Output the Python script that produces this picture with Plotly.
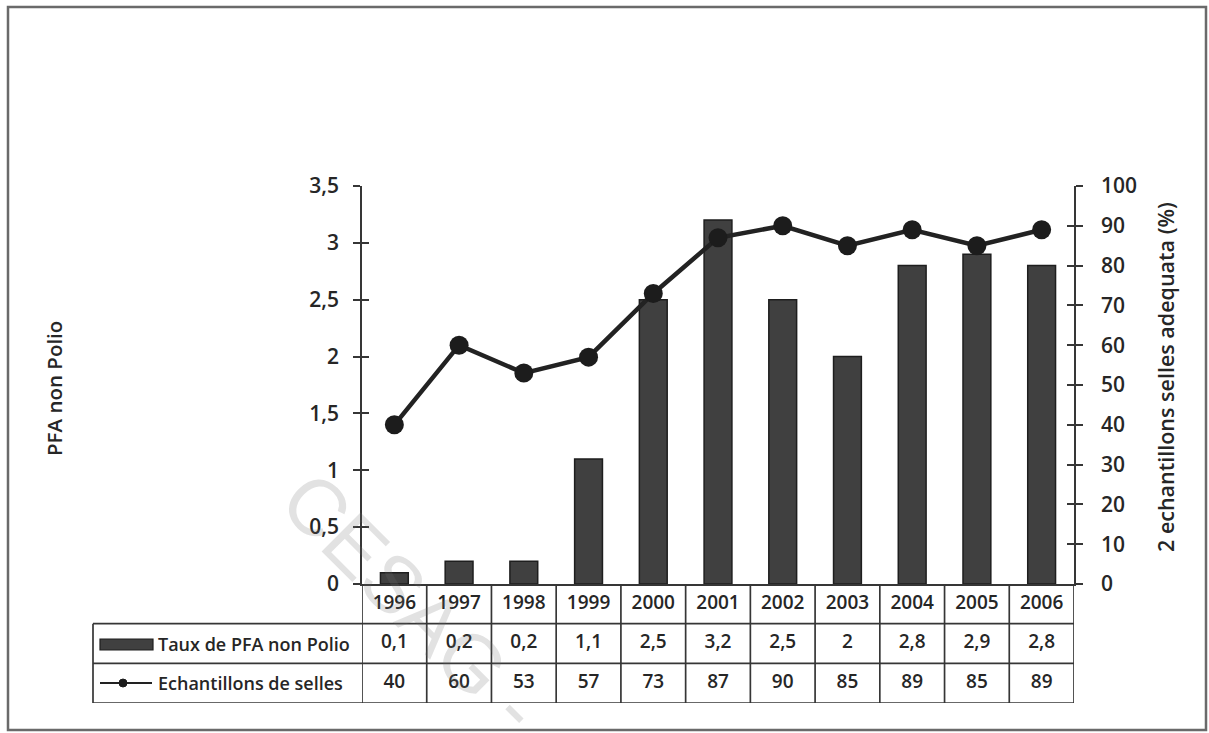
import plotly.graph_objects as go

years = ["1996", "1997", "1998", "1999", "2000", "2001", "2002", "2003", "2004", "2005", "2006"]
pfa_rate = [0.1, 0.2, 0.2, 1.1, 2.5, 3.2, 2.5, 2.0, 2.8, 2.9, 2.8]
stool_pct = [40, 60, 53, 57, 73, 87, 90, 85, 89, 85, 89]
bar_name = "Taux de PFA non Polio"
line_name = "Echantillons de selles"
left_title = "PFA non Polio"
right_title = "2 echantillons selles adequata (%)"
watermark = "CESAG -"

W, H = 1209, 733
L, R, T, B = 362, 1074, 186, 703   # plot area incl. data table
AX0 = 584                           # pixel row of the value-axis zero line
PW, PH = R - L, B - T
split = (B - AX0) / PH               # paper fraction occupied by table

def xp(px):
    return (px - L) / PW

def yp(py):
    return (B - py) / PH

def fmt(v):
    return ("%g" % v).replace(".", ",")

FONT = "Open Sans"
TXT = "#262626"
LINEC = "#363636"
lw = 1.7

fig = go.Figure()
fig.add_trace(go.Bar(x=years, y=pfa_rate, name=bar_name, width=0.43,
                     marker=dict(color="#404040", line=dict(color="#1e1e1e", width=1.5)),
                     xaxis="x", yaxis="y", showlegend=False))
fig.add_trace(go.Scatter(x=years, y=stool_pct, name=line_name, mode="lines+markers",
                         line=dict(color="#222222", width=4.5),
                         marker=dict(size=19, color="#1c1c1c"),
                         xaxis="x", yaxis="y2", showlegend=False))
fig.add_trace(go.Scatter(x=years, y=[None] * len(years), yaxis="y3", showlegend=False, hoverinfo="skip"))
fig.add_trace(go.Scatter(x=years, y=[None] * len(years), yaxis="y4", showlegend=False, hoverinfo="skip"))

# data table rows: 2.5 = years, 1.5 = bar values, 0.5 = line values
tfont = dict(family=FONT, size=19, color=TXT, weight=600)
lfont = dict(family=FONT, size=18, color=TXT, weight=600)
fig.add_trace(go.Scatter(x=years, y=[2.5] * len(years), text=years, mode="text",
                         textfont=tfont, xaxis="x", yaxis="y5", showlegend=False, hoverinfo="skip"))
fig.add_trace(go.Scatter(x=years, y=[1.5] * len(years), text=[fmt(v) for v in pfa_rate], mode="text",
                         textfont=tfont, xaxis="x", yaxis="y5", showlegend=False, hoverinfo="skip"))
fig.add_trace(go.Scatter(x=years, y=[0.5] * len(years), text=[fmt(v) for v in stool_pct], mode="text",
                         textfont=tfont, xaxis="x", yaxis="y5", showlegend=False, hoverinfo="skip"))

shapes = []
annotations = []
tl = 93
# horizontal table lines (y5 units)
for yv in (0, 1, 2):
    shapes.append(dict(type="line", xref="paper", yref="y5", x0=xp(tl), x1=1, y0=yv, y1=yv,
                       line=dict(color=LINEC, width=lw)))
# vertical lines at category boundaries
for i in range(len(years) + 1):
    shapes.append(dict(type="line", xref="x", yref="y5", x0=i - 0.5, x1=i - 0.5, y0=0, y1=3,
                       line=dict(color=LINEC, width=lw)))
shapes.append(dict(type="line", xref="paper", yref="y5", x0=xp(tl), x1=xp(tl), y0=0, y1=2,
                   line=dict(color=LINEC, width=lw)))

# legend keys
shapes.append(dict(type="rect", xref="paper", yref="paper", x0=xp(100), x1=xp(153), y0=yp(650), y1=yp(639),
                   fillcolor="#404040", line=dict(color="#1e1e1e", width=1.2)))
shapes.append(dict(type="line", xref="paper", yref="paper", x0=xp(100), x1=xp(152), y0=yp(683), y1=yp(683),
                   line=dict(color="#222222", width=2)))
shapes.append(dict(type="circle", xref="paper", yref="paper", x0=xp(119), x1=xp(127), y0=yp(687), y1=yp(679),
                   fillcolor="#1c1c1c", line=dict(color="#1c1c1c", width=1)))

# outer border
shapes.append(dict(type="rect", xref="paper", yref="paper", x0=xp(8), x1=xp(1206), y0=yp(730), y1=yp(7),
                   line=dict(color="#6a6a6a", width=2.5)))

annotations.append(dict(x=xp(156), y=1.5, xref="paper", yref="y5", text=bar_name,
                        showarrow=False, font=lfont, xanchor="left", yanchor="middle"))
annotations.append(dict(x=xp(156), y=0.5, xref="paper", yref="y5", text=line_name,
                        showarrow=False, font=lfont, xanchor="left", yanchor="middle"))

# axis titles
annotations.append(dict(x=xp(54), y=yp(389), xref="paper", yref="paper", text=left_title, textangle=-90,
                        showarrow=False, font=dict(family=FONT, size=20.5, color=TXT, weight=600),
                        xanchor="center", yanchor="middle"))
annotations.append(dict(x=xp(1165), y=yp(377), xref="paper", yref="paper", text=right_title, textangle=-90,
                        showarrow=False, font=dict(family=FONT, size=21.5, color=TXT, weight=600),
                        xanchor="center", yanchor="middle"))

# watermark
annotations.append(dict(x=xp(412), y=yp(602), xref="paper", yref="paper", text=watermark, textangle=45,
                        showarrow=False, font=dict(family="Liberation Sans", size=80, color="rgba(110,110,110,0.2)"),
                        xanchor="center", yanchor="middle"))

axfont = dict(family=FONT, size=21, color=TXT, weight=600)
main_dom = [split, 1]
fig.update_layout(
    width=W, height=H,
    margin=dict(l=L, r=W - R, t=T, b=H - B, pad=0),
    paper_bgcolor="white", plot_bgcolor="white",
    separators=", ",
    xaxis=dict(type="category", range=[-0.5, len(years) - 0.5], showticklabels=False, ticks="",
               showgrid=False, zeroline=False, showline=True, linecolor=LINEC, linewidth=lw, anchor="y"),
    yaxis=dict(domain=main_dom, range=[0, 3.5], dtick=0.5, tick0=0, showgrid=False, zeroline=False,
               showline=True, linecolor=LINEC, linewidth=lw, ticks="outside", ticklen=7, tickwidth=1.5,
               tickcolor=LINEC, tickfont=axfont, ticklabelstandoff=10),
    yaxis2=dict(domain=main_dom, range=[0, 100], dtick=10, tick0=0, overlaying="y", side="right",
                showgrid=False, zeroline=False, showline=True, linecolor=LINEC, linewidth=lw,
                ticks="outside", ticklen=7, tickwidth=1.5, tickcolor=LINEC, tickfont=axfont,
                ticklabelstandoff=14),
    yaxis3=dict(domain=main_dom, range=[0, 3.5], dtick=0.5, tick0=0, overlaying="y", side="left",
                showgrid=False, zeroline=False, showline=False, ticks="inside", ticklen=7, tickwidth=1.5,
                tickcolor=LINEC, showticklabels=False),
    yaxis4=dict(domain=main_dom, range=[0, 100], dtick=10, tick0=0, overlaying="y", side="right",
                showgrid=False, zeroline=False, showline=False, ticks="inside", ticklen=7, tickwidth=1.5,
                tickcolor=LINEC, showticklabels=False),
    yaxis5=dict(domain=[0, split], range=[0, 3], showgrid=False, zeroline=False, showline=False,
                showticklabels=False, ticks="", fixedrange=True),
    shapes=shapes,
    annotations=annotations,
    showlegend=False,
)

fig.write_html("out.html")
